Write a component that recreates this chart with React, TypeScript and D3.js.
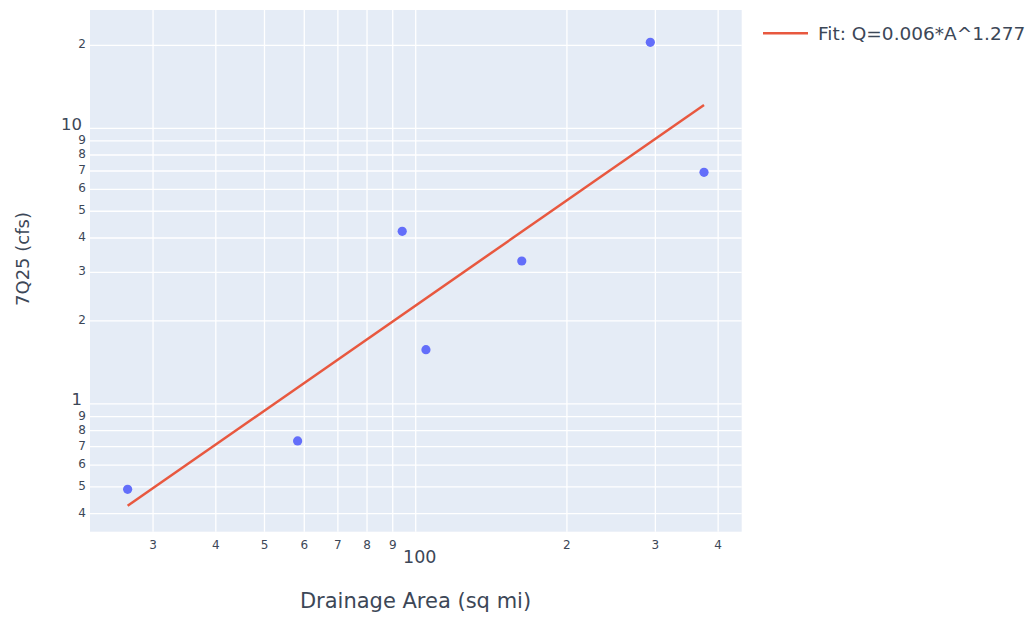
import React from "react";
import * as d3 from "d3";

const areaValues = [26.7, 58.2, 94.0, 104.8, 162.6, 293.1, 374.9];
const flowValues = [0.49, 0.734, 4.23, 1.574, 3.3, 20.5, 6.92];
const fitArea = [26.7, 374.9];
const fitFlow = [0.427, 12.15];
const xTicks = [30, 40, 50, 60, 70, 80, 90, 100, 200, 300, 400];
const yTicks = [0.4, 0.5, 0.6, 0.7, 0.8, 0.9, 1, 2, 3, 4, 5, 6, 7, 8, 9, 10, 20];
const xTitle = "Drainage Area (sq mi)";
const yTitle = "7Q25 (cfs)";
const legendLabel = "Fit: Q=0.006*A^1.277";

const W = 1032;
const H = 620;
const plot = { left: 90, right: 741.7, top: 10, bottom: 531.7 };
const FONT = "'DejaVu Sans', Verdana, sans-serif";
const TEXT = "#3c4757";

const isPow10 = (v: number) => Math.abs(Math.log10(v) - Math.round(Math.log10(v))) < 1e-9;
const digit = (v: number) => String(Math.round(v / Math.pow(10, Math.floor(Math.log10(v) + 1e-9))));
const fmtMajor = (v: number) => (v >= 1 ? String(Math.round(v)) : String(v));

export default function App() {
  const x = d3.scaleLog().domain([22.47, 445.6]).range([plot.left, plot.right]);
  const y = d3.scaleLog().domain([0.344, 26.86]).range([plot.bottom, plot.top]);
  const line = d3
    .line<number>()
    .x((_, i) => x(fitArea[i]))
    .y((d) => y(d));

  return (
    <svg
      width={W}
      height={H}
      style={{ position: "absolute", left: 0, top: 0, background: "#fff" }}
      fontFamily={FONT}
    >
      <rect
        x={plot.left}
        y={plot.top}
        width={plot.right - plot.left}
        height={plot.bottom - plot.top}
        fill="#E5ECF6"
      />
      {xTicks.map((t) => (
        <line
          key={"gx" + t}
          x1={x(t)}
          x2={x(t)}
          y1={plot.top}
          y2={plot.bottom}
          stroke="#fff"
          strokeWidth={1.3}
        />
      ))}
      {yTicks.map((t) => (
        <line
          key={"gy" + t}
          x1={plot.left}
          x2={plot.right}
          y1={y(t)}
          y2={y(t)}
          stroke="#fff"
          strokeWidth={1.3}
        />
      ))}
      {xTicks.map((t) =>
        isPow10(t) ? (
          <text
            key={"tx" + t}
            x={x(t) + 4}
            y={557}
            fontSize={17.5}
            fill={TEXT}
            textAnchor="middle"
            dominantBaseline="central"
          >
            {fmtMajor(t)}
          </text>
        ) : (
          <text
            key={"tx" + t}
            x={x(t)}
            y={545}
            fontSize={12}
            fill={TEXT}
            textAnchor="middle"
            dominantBaseline="central"
          >
            {digit(t)}
          </text>
        )
      )}
      {yTicks.map((t) =>
        isPow10(t) ? (
          <text
            key={"ty" + t}
            x={82}
            y={y(t) - 4}
            fontSize={16.5}
            fill={TEXT}
            textAnchor="end"
            dominantBaseline="central"
          >
            {fmtMajor(t)}
          </text>
        ) : (
          <text
            key={"ty" + t}
            x={86}
            y={y(t) - 1}
            fontSize={12}
            fill={TEXT}
            textAnchor="end"
            dominantBaseline="central"
          >
            {digit(t)}
          </text>
        )
      )}
      <path d={line(fitFlow) || ""} fill="none" stroke="#E8583F" strokeWidth={2.5} />
      {areaValues.map((a, i) => (
        <circle key={"p" + i} cx={x(a)} cy={y(flowValues[i])} r={4.6} fill="#636EFA" />
      ))}
      <text
        x={415.5}
        y={601}
        fontSize={21}
        fill={TEXT}
        textAnchor="middle"
        dominantBaseline="central"
      >
        {xTitle}
      </text>
      <text
        transform={`translate(22,259) rotate(-90)`}
        fontSize={18}
        fill={TEXT}
        textAnchor="middle"
        dominantBaseline="central"
      >
        {yTitle}
      </text>
      <line x1={763} x2={808} y1={33.3} y2={33.3} stroke="#E8583F" strokeWidth={2.5} />
      <text x={818} y={33.3} fontSize={18.5} fill={TEXT} dominantBaseline="central">
        {legendLabel}
      </text>
    </svg>
  );
}
